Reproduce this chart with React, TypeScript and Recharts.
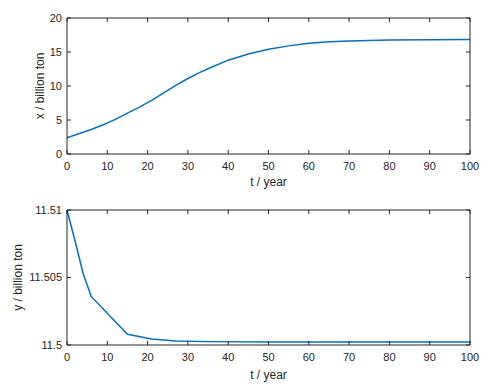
import { Line, LineChart, XAxis, YAxis } from 'recharts'

const tTop = [0, 2, 4, 6, 9, 12, 15, 18, 21, 24, 27, 30, 33, 36, 40, 45, 50, 55, 60, 65, 70, 80, 90, 100]
const xTop = [2.4, 2.8, 3.2, 3.6, 4.3, 5.1, 6.0, 6.9, 7.9, 9.0, 10.1, 11.1, 12.0, 12.8, 13.8, 14.7, 15.4, 15.9, 16.3, 16.5, 16.6, 16.75, 16.8, 16.85]

// y(t): figure du bas
const tBottom = [0, 2, 4, 6, 15, 21, 27, 35, 50, 100]
const yBottom = [11.51, 11.5077, 11.5053, 11.5036, 11.5008, 11.50045, 11.5003, 11.50025, 11.50022, 11.50022]

const tTicks = [0, 10, 20, 30, 40, 50, 60, 70, 80, 90, 100]
const xTicks = [0, 5, 10, 15, 20]
const yTicks = [11.5, 11.505, 11.51]

const topData = tTop.map((t, i) => ({ t, v: xTop[i] }))
const bottomData = tBottom.map((t, i) => ({ t, v: yBottom[i] }))

const AXIS = '#262626'
const BLUE = '#0072BD'
const FONT = '"Liberation Sans", Arial, sans-serif'
const tickStyle = { fill: AXIS, fontSize: 11, fontFamily: FONT }
const labelStyle = { fill: AXIS, fontSize: 12, fontFamily: FONT }

function Panel({
  data,
  yDomain,
  yTickValues,
  yLabel,
  yLabelOffset,
  height,
  marginTop,
  xAxisHeight,
  xLabelOffset,
  fmt,
}: {
  data: { t: number; v: number }[]
  yDomain: [number, number]
  yTickValues: number[]
  yLabel: string
  yLabelOffset: number
  height: number
  marginTop: number
  xAxisHeight: number
  xLabelOffset: number
  fmt: (v: number) => string
}) {
  return (
    <LineChart width={491} height={height} data={data} margin={{ top: marginTop - 1, right: 20, left: 0, bottom: 0 }}>
      <XAxis
        xAxisId="b"
        dataKey="t"
        type="number"
        domain={[0, 100]}
        ticks={tTicks}
        height={xAxisHeight}
        tickSize={-4}
        tickMargin={12}
        stroke={AXIS}
        tick={tickStyle}
        label={{ value: 't / year', position: 'insideBottom', offset: xLabelOffset, style: labelStyle }}
      />
      {/* axe du haut : juste le cadre et les graduations */}
      <XAxis
        xAxisId="t"
        orientation="top"
        dataKey="t"
        type="number"
        domain={[0, 100]}
        ticks={tTicks}
        height={1}
        tickSize={-4}
        tickMargin={0}
        tick={{ fontSize: 1 }}
        tickFormatter={() => ''}
        stroke={AXIS}
      />
      <YAxis
        yAxisId="l"
        type="number"
        domain={yDomain}
        ticks={yTickValues}
        width={67}
        tickSize={-4}
        tickMargin={9}
        stroke={AXIS}
        tick={tickStyle}
        tickFormatter={fmt}
        allowDataOverflow
        label={{
          value: yLabel,
          angle: -90,
          position: 'insideLeft',
          offset: yLabelOffset,
          style: { ...labelStyle, textAnchor: 'middle' },
        }}
      />
      <YAxis
        yAxisId="r"
        orientation="right"
        type="number"
        domain={yDomain}
        ticks={yTickValues}
        width={1}
        tickSize={-4}
        tickMargin={0}
        tick={{ fontSize: 1 }}
        tickFormatter={() => ''}
        stroke={AXIS}
        allowDataOverflow
      />
      <Line
        xAxisId="b"
        yAxisId="l"
        type="linear"
        dataKey="v"
        stroke={BLUE}
        strokeWidth={1.5}
        dot={false}
        isAnimationActive={false}
      />
    </LineChart>
  )
}

export default function App() {
  return (
    <div style={{ width: 491, height: 391, background: '#fff', position: 'absolute', left: 0, top: 0 }}>
      <Panel
        data={topData}
        yDomain={[0, 20]}
        yTickValues={xTicks}
        yLabel="x / billion ton"
        yLabelOffset={40}
        height={195}
        marginTop={18}
        xAxisHeight={41}
        xLabelOffset={9}
        fmt={(v) => String(v)}
      />
      <Panel
        data={bottomData}
        yDomain={[11.5, 11.51]}
        yTickValues={yTicks}
        yLabel="y / billion ton"
        yLabelOffset={18}
        height={196}
        marginTop={15}
        xAxisHeight={46}
        xLabelOffset={12}
        fmt={(v) => String(Number(v.toFixed(3)))}
      />
    </div>
  )
}
